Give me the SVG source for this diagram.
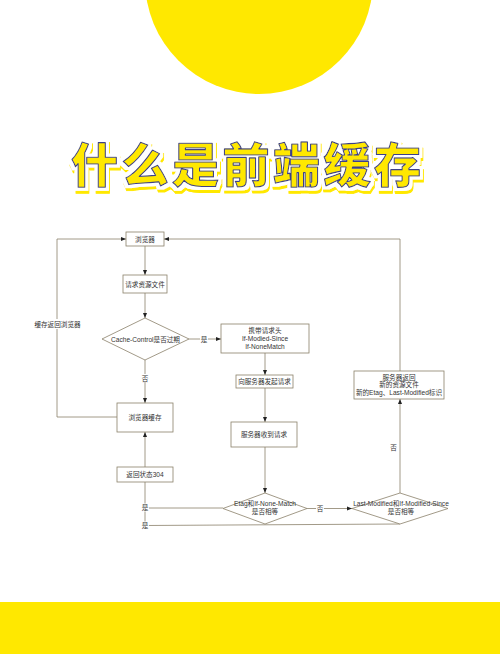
<svg xmlns="http://www.w3.org/2000/svg" width="500" height="654" viewBox="0 0 500 654">
<defs>
<style>
.box{fill:#fff;stroke:#8a8069;stroke-width:0.8}
.ln{fill:none;stroke:#8a8069;stroke-width:0.8}
.t{font-family:"Liberation Sans","Noto Sans CJK SC",sans-serif;font-size:6.6px;fill:#333;text-anchor:middle;dominant-baseline:central}
.title{font-family:"Noto Sans CJK SC","Noto Sans CJK JP",sans-serif;font-weight:900;font-size:47px;letter-spacing:3.5px}
.bg{fill:#fff}
</style>
<filter id="tfx" x="-10%" y="-30%" width="120%" height="160%">
<feMorphology in="SourceAlpha" operator="dilate" radius="2.5" result="dil"/>
<feFlood flood-color="#ffffff" result="wc"/>
<feComposite in="wc" in2="dil" operator="in" result="white"/>
<feOffset in="dil" dx="1" dy="3" result="off"/>
<feFlood flood-color="#ffe800" result="yc"/>
<feComposite in="yc" in2="off" operator="in" result="yellow"/>
<feMerge>
<feMergeNode in="yellow"/>
<feMergeNode in="white"/>
<feMergeNode in="SourceGraphic"/>
</feMerge>
</filter>
<marker id="ah" viewBox="0 0 10 10" refX="10" refY="5" markerWidth="5" markerHeight="5" orient="auto" markerUnits="userSpaceOnUse">
<path d="M0,1 L10,5 L0,9 z" fill="#222"/>
</marker>
</defs>
<rect width="500" height="654" fill="#fff"/>
<circle cx="259" cy="-20" r="114" fill="#ffe800"/>
<rect x="0" y="602" width="500" height="52" fill="#ffe800"/>

<g id="title">
<text class="title" x="71" y="182" fill="#ffe800" stroke="#3d4189" stroke-width="1.1" stroke-linejoin="round" filter="url(#tfx)">什么是前端缓存</text>
</g>

<g id="connectors">
<path class="ln" d="M145,246 L145,275" marker-end="url(#ah)"/>
<path class="ln" d="M145,293 L145,318" marker-end="url(#ah)"/>
<path class="ln" d="M189,339 L221,339" marker-end="url(#ah)"/>
<path class="ln" d="M145,360 L145,403" marker-end="url(#ah)"/>
<path class="ln" d="M117,417 L57,417 L57,239 L126,239" marker-end="url(#ah)"/>
<path class="ln" d="M265,353 L265,375" marker-end="url(#ah)"/>
<path class="ln" d="M265,388 L265,422" marker-end="url(#ah)"/>
<path class="ln" d="M265,447 L265,493" marker-end="url(#ah)"/>
<path class="ln" d="M307,508.5 L352,508.5" marker-end="url(#ah)"/>
<path class="ln" d="M400,493 L400,399" marker-end="url(#ah)"/>
<path class="ln" d="M400,371 L400,239 L164,239" marker-end="url(#ah)"/>
<path class="ln" d="M223,508 L145,508"/>
<path class="ln" d="M400,524 L145,525.5 L145,482"/>
<path class="ln" d="M145,467 L145,432" marker-end="url(#ah)"/>
<rect class="bg" x="36" y="319" width="43" height="10"/>
<text class="t" x="57.5" y="324">缓存返回浏览器</text>
<rect class="bg" x="200" y="335" width="8" height="8"/>
<text class="t" x="204" y="339">是</text>
<rect class="bg" x="141" y="374" width="8" height="8"/>
<text class="t" x="145" y="378">否</text>
<rect class="bg" x="316" y="504" width="8" height="8"/>
<text class="t" x="320" y="508">否</text>
<text class="t" x="393.5" y="447">否</text>
<rect class="bg" x="141" y="503.5" width="8" height="8"/>
<text class="t" x="145" y="507.5">是</text>
<rect class="bg" x="141" y="521.5" width="8" height="8"/>
<text class="t" x="145" y="525.5">是</text>
</g>

<g id="n-browser">
<rect class="box" x="126" y="232" width="38" height="14"/>
<text class="t" x="145" y="239">浏览器</text>
</g>
<g id="n-request">
<rect class="box" x="123" y="275" width="44" height="18"/>
<text class="t" x="145" y="284">请求资源文件</text>
</g>
<g id="n-cachecontrol">
<polygon class="box" points="145,318 189,339 145,360 102,339"/>
<text class="t" x="145.5" y="339">Cache-Control是否过期</text>
</g>
<g id="n-headers">
<rect class="box" x="221" y="324" width="88" height="29"/>
<text class="t" x="265" y="330.5">携带请求头</text>
<text class="t" x="265" y="338.5">If-Modied-Since</text>
<text class="t" x="265" y="346.5">If-NoneMatch</text>
</g>
<g id="n-send">
<rect class="box" x="236" y="375" width="57" height="13"/>
<text class="t" x="264.5" y="381.5">向服务器发起请求</text>
</g>
<g id="n-cache">
<rect class="box" x="117" y="403" width="56" height="29"/>
<text class="t" x="145" y="417.5">浏览器缓存</text>
</g>
<g id="n-receive">
<rect class="box" x="231" y="422" width="66" height="25"/>
<text class="t" x="264" y="434.5">服务器收到请求</text>
</g>
<g id="n-return">
<rect class="box" x="354" y="371" width="90" height="28"/>
<text class="t" x="399" y="377">服务器返回</text>
<text class="t" x="399" y="384.8">新的资源文件</text>
<text class="t" x="399" y="392.6">新的Etag、Last-Modified标识</text>
</g>
<g id="n-304">
<rect class="box" x="117" y="467" width="56" height="15"/>
<text class="t" x="145" y="474.5">返回状态304</text>
</g>
<g id="n-etag">
<polygon class="box" points="265,493 307,508.5 265,524 223,508.5"/>
<text class="t" x="265" y="503.5">Etag和If-None-Match</text>
<text class="t" x="265" y="511.5">是否相等</text>
</g>
<g id="n-lastmod">
<polygon class="box" points="400,493 448,508.5 400,524 352,508.5"/>
<text class="t" x="401" y="503.5">Last-Modified和If-Modified-Since</text>
<text class="t" x="401" y="511.5">是否相等</text>
</g>
</svg>
